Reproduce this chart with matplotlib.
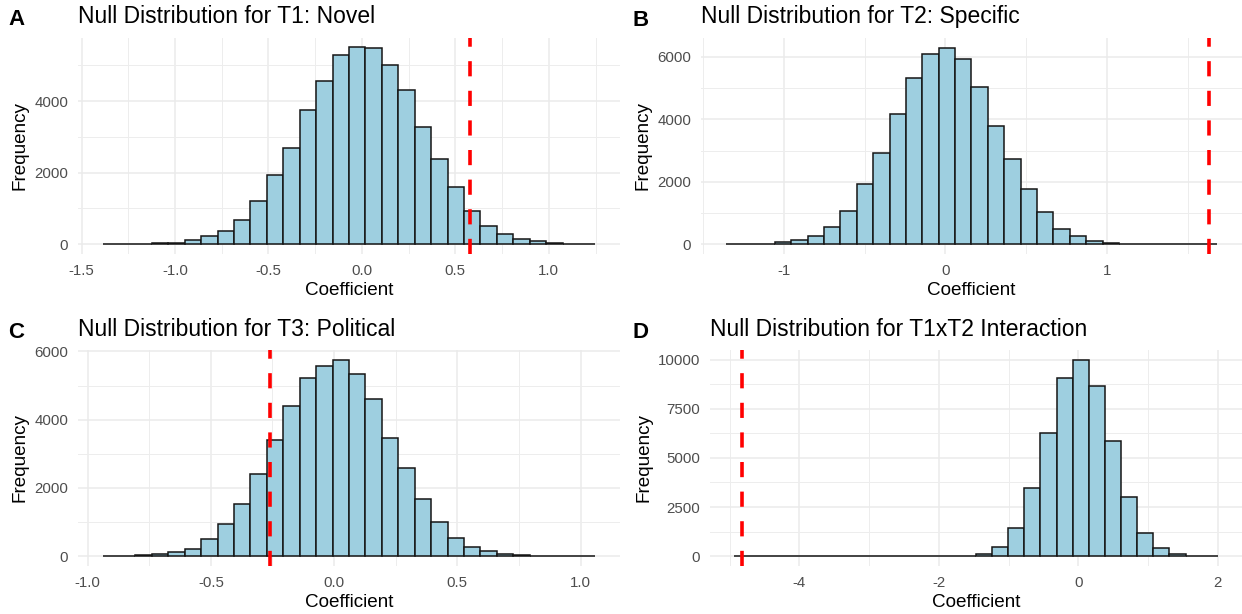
import numpy as np
import matplotlib
matplotlib.use('Agg')
import matplotlib.pyplot as plt
from matplotlib.ticker import MultipleLocator, FormatStrFormatter

plt.rcParams['font.family'] = ['Liberation Sans', 'DejaVu Sans']
plt.rcParams['axes.unicode_minus'] = False

# --- data (30 bins per panel) ---
titles = ['Null Distribution for T1: Novel', 'Null Distribution for T2: Specific',
          'Null Distribution for T3: Political', 'Null Distribution for T1xT2 Interaction']
tags = ['A', 'B', 'C', 'D']

t1_range = (-1.387, 1.249)
t1_counts = [2, 4, 8, 20, 45, 120, 230, 380, 680, 1210, 1925, 2680, 3750, 4560, 5285,
             5500, 5470, 5005, 4310, 3265, 2370, 1590, 940, 495, 290, 150, 75, 35, 12, 5]
t1_obs = 0.577

t2_range = (-1.362, 1.685)
t2_counts = [2, 5, 10, 60, 140, 255, 565, 1075, 1925, 2905, 4160, 5320, 6105, 6290, 5925,
             5045, 3790, 2725, 1755, 1020, 500, 255, 115, 50, 15, 5, 2, 1, 0, 1]
t2_obs = 1.633

t3_range = (-0.939, 1.060)
t3_counts = [2, 10, 20, 60, 115, 225, 500, 945, 1520, 2400, 3395, 4400, 5220, 5570, 5755,
             5335, 4615, 3475, 2595, 1690, 1005, 535, 275, 145, 50, 25, 10, 5, 2, 1]
t3_obs = -0.261

t12_range = (-4.933, 2.000)
t12_counts = [1, 0, 0, 0, 0, 0, 0, 0, 0, 0, 0, 0, 0, 3, 25,
              120, 490, 1420, 3465, 6250, 9040, 9985, 8650, 5880, 2990, 1200, 405, 120, 25, 5]
t12_obs = -4.82

ranges = [t1_range, t2_range, t3_range, t12_range]
counts = [t1_counts, t2_counts, t3_counts, t12_counts]
observed = [t1_obs, t2_obs, t3_obs, t12_obs]
x_major = [0.5, 1.0, 0.5, 2.0]
x_fmt = ['%.1f', '%d', '%.1f', '%d']
y_major = [2000, 2000, 2000, 2500]

W, H = 1242, 614
# axes boxes in pixels: left, right, top, bottom
boxes = [(78, 620, 37.5, 254), (701, 1242, 38, 254),
         (78, 620, 350, 566), (710, 1242, 350, 566)]
tag_x = [8, 633, 8, 633]

fig = plt.figure(figsize=(W / 100, H / 100), dpi=100)

for i in range(4):
    l, r, t, b = boxes[i]
    ax = fig.add_axes([l / W, 1 - b / H, (r - l) / W, (b - t) / H])
    lo, hi = ranges[i]
    edges = np.linspace(lo, hi, len(counts[i]) + 1)
    ax.bar(edges[:-1], counts[i], width=np.diff(edges), align='edge',
           color='#9ECFE0', edgecolor='#151515', linewidth=1.1, zorder=2)
    ax.axvline(observed[i], color='#FF0000', linewidth=2.6, linestyle=(0, (4.2, 4.0)), zorder=3)

    span = hi - lo
    ymax = max(counts[i])
    ax.set_xlim(lo - 0.05 * span, hi + 0.05 * span)
    ax.set_ylim(-0.05 * ymax, 1.05 * ymax)

    ax.xaxis.set_major_locator(MultipleLocator(x_major[i]))
    ax.xaxis.set_minor_locator(MultipleLocator(x_major[i] / 2))
    ax.xaxis.set_major_formatter(FormatStrFormatter(x_fmt[i]))
    ax.yaxis.set_major_locator(MultipleLocator(y_major[i]))
    ax.yaxis.set_minor_locator(MultipleLocator(y_major[i] / 2))

    ax.grid(which='major', color='#EBEBEB', linewidth=1.1, zorder=0)
    ax.grid(which='minor', color='#EDEDED', linewidth=0.7, zorder=0)
    ax.set_axisbelow(True)
    for s in ax.spines.values():
        s.set_visible(False)
    ax.tick_params(which='both', length=0, labelsize=10.8, colors='#4D4D4D', pad=7)

    ax.set_xlabel('Coefficient', fontsize=13.6, labelpad=3)
    ax.set_ylabel('Frequency', fontsize=13.6, labelpad=4)

    fig.text(l / W, 1 - (t - 14.5) / H, titles[i], fontsize=16.5, va='baseline', ha='left')
    fig.text(tag_x[i] / W, 1 - (t - 12.5) / H, tags[i], fontsize=16, fontweight='bold',
             va='baseline', ha='left')

fig.savefig('out.png', dpi=100, facecolor='white')
